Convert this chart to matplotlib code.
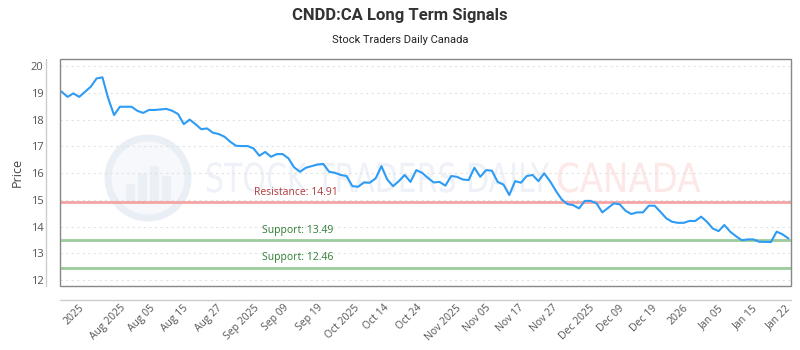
import numpy as np
import matplotlib
matplotlib.use("Agg")
import matplotlib.pyplot as plt
from matplotlib.patches import Rectangle, PathPatch, Circle
from matplotlib.textpath import TextPath
from matplotlib.font_manager import FontProperties
from matplotlib.transforms import Affine2D, IdentityTransform

plt.rcParams['font.family'] = ['Open Sans', 'DejaVu Sans']

# closing prices (one per trading day)
prices = [19.04, 18.85, 18.98, 18.85, 19.04, 19.23, 19.54, 19.58, 18.79, 18.17,
          18.48, 18.48, 18.48, 18.33, 18.25, 18.36, 18.36, 18.38, 18.40, 18.33,
          18.21, 17.83, 18.00, 17.83, 17.64, 17.67, 17.51, 17.46, 17.36, 17.17,
          17.02, 17.01, 17.01, 16.92, 16.65, 16.79, 16.61, 16.71, 16.71, 16.55,
          16.21, 16.05, 16.20, 16.26, 16.32, 16.34, 16.05, 16.01, 15.93, 15.89,
          15.51, 15.49, 15.65, 15.64, 15.80, 16.26, 15.76, 15.51, 15.70, 15.93,
          15.67, 16.11, 16.01, 15.82, 15.65, 15.67, 15.53, 15.89, 15.86, 15.76,
          15.74, 16.20, 15.86, 16.11, 16.09, 15.67, 15.57, 15.18, 15.70, 15.64,
          15.89, 15.93, 15.70, 15.99, 15.70, 15.34, 15.02, 14.84, 14.80, 14.68,
          14.96, 14.96, 14.87, 14.53, 14.70, 14.87, 14.83, 14.59, 14.47, 14.53,
          14.53, 14.78, 14.78, 14.55, 14.31, 14.18, 14.14, 14.14, 14.21, 14.21,
          14.37, 14.18, 13.93, 13.83, 14.06, 13.81, 13.64, 13.49, 13.52, 13.52,
          13.43, 13.43, 13.42, 13.81, 13.71, 13.56]

tick_labels = ['2025', 'Aug 2025', 'Aug 05', 'Aug 15', 'Aug 27', 'Sep 2025',
               'Sep 09', 'Sep 19', 'Oct 2025', 'Oct 14', 'Oct 24', 'Nov 2025',
               'Nov 05', 'Nov 17', 'Nov 27', 'Dec 2025', 'Dec 09', 'Dec 19',
               '2026', 'Jan 05', 'Jan 15', 'Jan 22']

resistance = [14.91]
supports = [13.49, 12.46]

x = np.arange(len(prices))

fig = plt.figure(figsize=(8, 3.5), dpi=100)
ax = fig.add_axes([0.075, 0.183, 0.914, 0.648])

# watermark (drawn in pixel coords behind everything)
def wm_text(s, px, py, h, color, sx=0.72):
    tp = TextPath((0, 0), s, size=h, prop=FontProperties(family='DejaVu Sans'))
    tr = Affine2D().scale(sx, 1.0).translate(px, py)
    fig.patches.append(PathPatch(tr.transform_path(tp), transform=IdentityTransform(),
                                 facecolor=color, edgecolor='none', zorder=-5))

wm_text('STOCK TRADERS DAILY', 205, 158, 40, '#eef2f8', sx=0.75)
wm_text('CANADA', 556, 158, 40, '#fde8e8', sx=0.85)
fig.patches.append(Circle((148, 172), 40, transform=IdentityTransform(),
                          facecolor='#f6f8fc', edgecolor='#eaeef5', lw=5, zorder=-5))
for bx, bh in [(126, 20), (138, 30), (150, 38), (162, 28)]:
    fig.patches.append(Rectangle((bx, 146), 9, bh, transform=IdentityTransform(),
                                 facecolor='#ebeff6', edgecolor='none', zorder=-5))

ax.patch.set_alpha(0)

for yv in range(12, 21):
    ax.axhline(yv, color='#e2e2e2', lw=0.8, ls=(0, (2, 3)), zorder=1)

ax.plot(x, prices, color='#2e9bf5', lw=1.5, zorder=4)

for r in resistance:
    ax.axhline(r, color='#f4a3a3', lw=2, zorder=3)
    ax.text(33, r + 0.17, 'Resistance: %.2f' % r, color='#b23a3a', fontsize=7.5,
            va='bottom', ha='left', zorder=5)
for s in supports:
    ax.axhline(s, color='#9ccc9c', lw=2, zorder=3)
    ax.text(34.4, s + 0.17, 'Support: %.2f' % s, color='#2e7d32', fontsize=7.5,
            va='bottom', ha='left', zorder=5)

ax.set_xlim(-0.3, 125.5)
ax.set_ylim(11.78, 20.26)
ax.set_yticks(range(12, 21))
ax.set_xticks(np.linspace(2.2, 123.3, len(tick_labels)))
ax.set_xticklabels(tick_labels)
ax.tick_params(axis='both', length=0, labelsize=7.5, labelcolor='#555555')
ax.tick_params(axis='y', pad=2, labelsize=8)
ax.tick_params(axis='x', pad=2, labelrotation=45)
for lbl in ax.get_xticklabels():
    lbl.set_ha('right')
    lbl.set_rotation_mode('anchor')

for side in ['top', 'right']:
    ax.spines[side].set_visible(False)
for side in ['left', 'bottom']:
    ax.spines[side].set_position(('outward', 10))
    ax.spines[side].set_color('#cccccc')
    ax.spines[side].set_linewidth(1)
ax.add_patch(Rectangle((0, 0), 1, 1, transform=ax.transAxes, fill=False,
                       edgecolor='#888888', lw=1, clip_on=False, zorder=6))

ax.set_ylabel('Price', fontsize=9, color='#444444', labelpad=5)

fig.text(0.5, 0.955, 'CNDD:CA Long Term Signals', ha='center', va='center',
         fontsize=12, fontweight='bold', color='#333333', family='Roboto')
fig.text(0.5, 0.885, 'Stock Traders Daily Canada', ha='center', va='center',
         fontsize=8, color='#222222', family='Roboto')

fig.savefig('out.png', dpi=100)
